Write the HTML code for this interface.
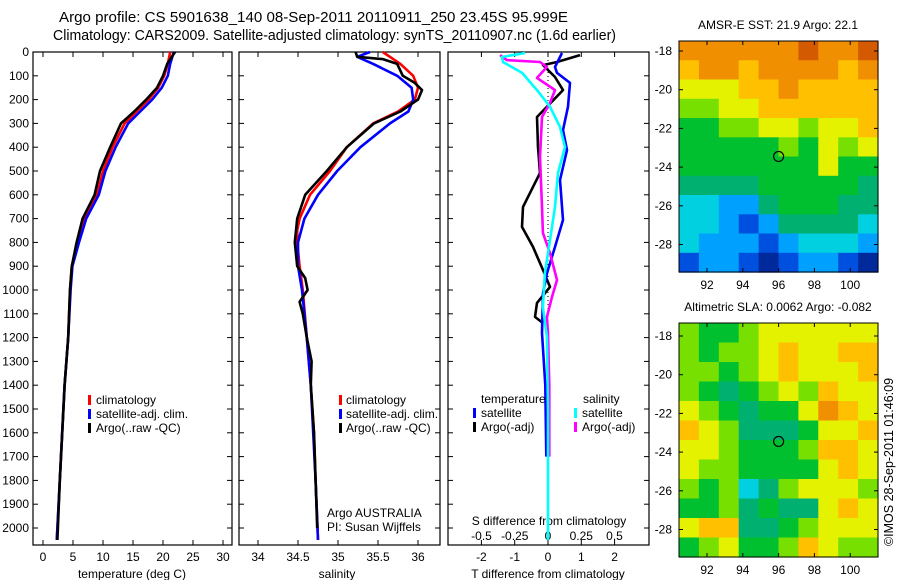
<!DOCTYPE html>
<html><head><meta charset="utf-8">
<style>
body{margin:0;background:#fff;}
svg{display:block;font-family:"Liberation Sans",Arial,sans-serif;font-size:12px;}
</style></head>
<body>
<svg id="chart" width="900" height="580" viewBox="0 0 900 580">
<text x="59" y="22" font-size="14.5" textLength="509" lengthAdjust="spacingAndGlyphs">Argo profile: CS 5901638_140 08-Sep-2011 20110911_250 23.45S 95.999E</text>
<text x="53" y="40" font-size="14.5" textLength="563" lengthAdjust="spacingAndGlyphs">Climatology: CARS2009. Satellite-adjusted climatology: synTS_20110907.nc (1.6d earlier)</text>
<g id="g"></g>
<text transform="translate(893,462) rotate(-90)" text-anchor="middle" font-size="12.5">©IMOS 28-Sep-2011 01:46:09</text>
</svg>
<script>
// ---- data ----
const depthTicks=[0,100,200,300,400,500,600,700,800,900,1000,1100,1200,1300,1400,1500,1600,1700,1800,1900,2000];
const tTicks=[0,5,10,15,20,25,30];
const sTicks=[34,34.5,35,35.5,36];
const dTTicks=[-2,-1,0,1,2];
const dSTicks=[-0.5,-0.25,0,0.25,0.5];
const dSTickLabels=["-0.5","-0.25","0","0.25","0.5"];
// temperature profiles
const climDepth=[0,50,100,150,200,250,300,400,500,600,700,800,900,1000,1200,1400,1600,1800,2050];
const tClim=[21.2,20.8,20.2,19.2,17.6,15.6,13.6,11.6,10.0,9.0,7.0,5.9,4.8,4.5,4.2,3.6,3.2,2.8,2.3];
const tSat=[21.8,21.2,20.8,19.8,18.2,16.2,14.2,12.1,10.4,9.3,7.2,6.0,4.9,4.6,4.2,3.6,3.2,2.8,2.3];
const tArgo=[22.0,20.7,20.0,19.0,17.2,15.2,13.0,11.2,9.5,8.6,6.6,5.6,4.8,4.5,4.2,3.6,3.2,2.8,2.4];
// salinity profiles
const sClimDepth=[0,50,100,150,200,250,300,400,500,600,700,750,800,900,1000,1200,1400,1600,1800,2050];
const sClim=[35.56,35.78,35.94,36.0,35.96,35.75,35.44,35.11,34.9,34.65,34.52,34.49,34.49,34.52,34.56,34.61,34.66,34.7,34.72,34.75];
const sSatDepth=[0,20,50,100,150,200,250,300,400,500,600,700,800,900,1000,1200,1400,1800,2050];
const sSat=[35.4,35.24,35.44,35.74,35.92,35.94,35.88,35.65,35.28,34.99,34.75,34.58,34.5,34.5,34.55,34.61,34.66,34.72,34.75];
const sArgoDepth=[0,20,30,50,100,130,160,200,250,300,400,500,600,700,800,900,950,1000,1050,1100,1200,1300,1400,1600,1800,2000];
const sArgo=[35.22,35.24,35.56,35.74,35.81,35.96,36.05,36.0,35.78,35.45,35.11,34.86,34.59,34.49,34.46,34.49,34.59,34.62,34.52,34.56,34.61,34.67,34.66,34.7,34.72,34.74];
// differences
const dTSatDepth=[4,63,88,130,230,328,412,538,706,819,929,1013,1181,1400,1700];
const dTSat=[0.42,0.21,0.27,0.66,0.6,0.45,0.57,0.36,0.45,0.21,-0.03,-0.15,-0.18,-0.08,-0.05];
const dTArgoDepth=[13,42,55,105,160,230,273,400,508,651,735,819,916,987,1054,1113,1139];
const dTArgo=[0.96,0.27,-0.15,0.21,0.45,-0.03,-0.33,-0.3,-0.24,-0.75,-0.78,-0.45,-0.15,0.06,-0.33,-0.39,-0.15];
const dSSatDepth=[4,21,42,88,160,230,315,399,508,651,790,929,1071,1197,1500,2050];
const dSSat=[-0.173,-0.346,-0.338,-0.195,-0.083,0.015,0.09,0.128,0.075,0.053,0.015,-0.023,-0.038,-0.008,0,0];
const dSArgoDepth=[13,34,42,63,109,160,214,273,441,651,760,845,958,1029,1113,1181,1400,1700];
const dSArgo=[-0.36,-0.31,-0.06,-0.008,-0.083,0.053,0.015,-0.045,-0.06,-0.045,-0.038,0.015,0.068,0.03,-0.008,0,0.01,0.01];
// maps (rows top->bottom, 10 cols)
const sstGrid=[
[9,9,9,9,9,9,10,9,9,10],[8,9,9,8,9,9,9,9,8,9],[7,7,7,8,8,9,8,8,8,8],[6,6,7,7,8,8,8,8,8,8],
[5,5,6,6,7,7,6,7,7,8],[5,5,5,5,5,6,5,7,6,7],[5,5,5,5,5,5,5,7,5,5],[4,4,4,4,5,5,5,5,5,4],
[3,3,2,2,4,5,5,5,4,4],[3,3,2,1,2,4,4,4,4,3],[3,2,2,2,1,2,3,3,3,2],[1,2,2,1,0,1,2,2,1,0]];
const slaGrid=[
[6,5,5,6,7,7,7,7,7,7],[6,5,6,6,7,8,7,7,8,8],[6,6,5,6,7,8,7,7,7,8],[6,5,4,5,6,7,6,8,7,7],
[7,6,5,4,5,5,7,9,8,7],[8,7,6,4,4,4,5,7,7,8],[7,7,6,5,5,5,6,8,8,7],[7,6,6,5,5,5,5,7,8,7],
[6,5,6,3,4,6,7,7,7,6],[5,5,6,4,5,4,4,7,8,7],[7,8,8,4,4,5,6,7,7,7],[5,6,7,5,5,6,8,7,6,6]];
const palette=["#002a9c","#0050e0","#00a0ff","#00d0e0","#00b070","#00c030","#78e000","#e4f200","#ffc000","#f09000","#d45a00"];
const lonTicks=[92,94,96,98,100];
const latTicks=[-18,-20,-22,-24,-26,-28];

// ---- helpers ----
const NS="http://www.w3.org/2000/svg";
const G=document.getElementById('g');
function mk(tag,attrs,parent){const e=document.createElementNS(NS,tag);for(const k in attrs)e.setAttribute(k,attrs[k]);(parent||G).appendChild(e);return e;}
function txt(x,y,s,anchor,parent){const t=mk('text',{x:x,y:y,'text-anchor':anchor||'middle'},parent);t.textContent=s;return t;}
const TOP=52,BOT=545;
const yD=d=>TOP+d*0.238;

function panel(name,x0,x1){
  const g=mk('g',{});
  
  
  const r=mk('rect',{x:x0,y:TOP,width:x1-x0,height:BOT-TOP,fill:'none',stroke:'#000','stroke-width':1.2},g);
  
  
  depthTicks.forEach(d=>{mk('line',{x1:x0,x2:x0+5,y1:yD(d),y2:yD(d),stroke:'#000'},g);mk('line',{x1:x1,x2:x1-5,y1:yD(d),y2:yD(d),stroke:'#000'},g);});
  return g;
}
function line(g,xs,ds,fx,color,name){
  const pts=xs.map((v,i)=>fx(v).toFixed(1)+','+yD(ds[i]).toFixed(1)).join(' ');
  const p=mk('polyline',{points:pts,fill:'none',stroke:color,'stroke-width':2.6,'stroke-linejoin':'round'},g);
  
  
}
function xticks(g,ticks,fx,labels,ylab){
  ticks.forEach((t,i)=>{const x=fx(t);mk('line',{x1:x,x2:x,y1:TOP,y2:TOP+5,stroke:'#000'},g);mk('line',{x1:x,x2:x,y1:BOT,y2:BOT-5,stroke:'#000'},g);
    const l=txt(x,ylab,labels?labels[i]:String(t),'middle',g);
    
    });
}
function legMark(g,x,y,c){mk('rect',{x:x,y:y-9,width:3,height:10,fill:c},g);}

// panel 1 temperature
const fT=t=>43+6*t;
const p1=panel('temperature-panel',33,232);
depthTicks.forEach(d=>{const l=txt(29,yD(d)+4,String(d),'end',p1);
  
  });
xticks(p1,tTicks,fT,null,561);
const xt1=txt(132,578,'temperature (deg C)','middle',p1);


line(p1,tClim,climDepth,fT,'#ff0000','temp-climatology-line');
line(p1,tSat,climDepth,fT,'#0000ff','temp-satellite-line');
line(p1,tArgo,climDepth,fT,'#000000','temp-argo-line');
[['#f00','climatology'],['#00f','satellite-adj. clim.'],['#000','Argo(..raw -QC)']].forEach((e,i)=>{
  legMark(p1,88,404+i*14,e[0]);const l=txt(96,404+i*14,e[1],'start',p1);
  
  });

// panel 2 salinity
const fS=s=>258+80*(s-34);
const p2=panel('salinity-panel',239,440);
xticks(p2,sTicks,fS,null,561);
const xt2=txt(337,578,'salinity','middle',p2);


line(p2,sClim,sClimDepth,fS,'#ff0000','sal-climatology-line');
line(p2,sSat,sSatDepth,fS,'#0000ff','sal-satellite-line');
line(p2,sArgo,sArgoDepth,fS,'#000000','sal-argo-line');
[['#f00','climatology'],['#00f','satellite-adj. clim.'],['#000','Argo(..raw -QC)']].forEach((e,i)=>{
  legMark(p2,339,404+i*14,e[0]);const l=txt(346,404+i*14,e[1],'start',p2);
  
  });
const a1=txt(327,517,'Argo AUSTRALIA','start',p2);


const a2=txt(327,531,'PI: Susan Wijffels','start',p2);



// panel 3 differences
const fdT=v=>548+33.3*v, fdS=v=>548+133*v;
const p3=panel('difference-panel',448,649);
xticks(p3,dTTicks,fdT,null,561);
dSTicks.forEach((t,i)=>{const l=txt(fdS(t),540,dSTickLabels[i],'middle',p3);
  
  });
const zl=mk('line',{x1:548,x2:548,y1:TOP,y2:BOT,stroke:'#000','stroke-dasharray':'1,3'},p3);


const st=txt(549,525,'S difference from climatology','middle',p3);


const tt=txt(548,578,'T difference from climatology','middle',p3);


line(p3,dTArgo,dTArgoDepth,fdT,'#000000','tdiff-argo-line');
line(p3,dTSat,dTSatDepth,fdT,'#0000ff','tdiff-satellite-line');
line(p3,dSArgo,dSArgoDepth,fdS,'#ff00ff','sdiff-argo-line');
line(p3,dSSat,dSSatDepth,fdS,'#00ffff','sdiff-satellite-line');
[[481,403,'temperature'],[583,403,'salinity']].forEach(e=>{const l=txt(e[0],e[1],e[2],'start',p3);
  
  });
[[473,417,'#00f','satellite'],[473,431,'#000','Argo(-adj)'],[574,417,'#0ff','satellite'],[574,431,'#f0f','Argo(-adj)']].forEach(e=>{
  legMark(p3,e[0],e[1],e[2]);const l=txt(e[0]+8,e[1],e[3],'start',p3);
  
  });

// maps
function map(name,grid,y0,y1,lat18y,title){
  const x0=679,x1=878;
  const g=mk('g',{});
  
  
  const rows=grid.length,cols=grid[0].length,cw=(x1-x0)/cols,ch=(y1-y0)/rows;
  grid.forEach((row,r)=>row.forEach((v,c)=>{
    const cell=mk('rect',{x:(x0+c*cw).toFixed(1),y:(y0+r*ch).toFixed(1),width:(cw+0.6).toFixed(1),height:(ch+0.6).toFixed(1),fill:palette[v]},g);
    
    }));
  mk('rect',{x:x0,y:y0,width:x1-x0,height:y1-y0,fill:'none',stroke:'#000'},g);
  const fx=l=>707+(l-92)*17.9, fy=la=>lat18y+(-18-la)*19.35;
  lonTicks.forEach(l=>{const x=fx(l);mk('line',{x1:x,x2:x,y1:y1,y2:y1-4,stroke:'#000'},g);mk('line',{x1:x,x2:x,y1:y0,y2:y0+4,stroke:'#000'},g);
    const t=txt(x,y1+17,String(l),'middle',g);
    
    });
  latTicks.forEach(la=>{const y=fy(la);mk('line',{x1:x0,x2:x0+4,y1:y,y2:y,stroke:'#000'},g);mk('line',{x1:x1,x2:x1-4,y1:y,y2:y,stroke:'#000'},g);
    const t=txt(672,y+4,String(la),'end',g);
    
    });
  const m=mk('circle',{cx:fx(96),cy:fy(-23.45),r:5,fill:'none',stroke:'#000','stroke-width':1.2},g);
  
  
  const t=txt(778,y0-12,title,'middle',g);
  
  
}
map('sst-map',sstGrid,41,272,51,'AMSR-E SST: 21.9 Argo: 22.1');
map('sla-map',slaGrid,323,557,336,'Altimetric SLA: 0.0062 Argo: -0.082');
</script>
</body></html>
